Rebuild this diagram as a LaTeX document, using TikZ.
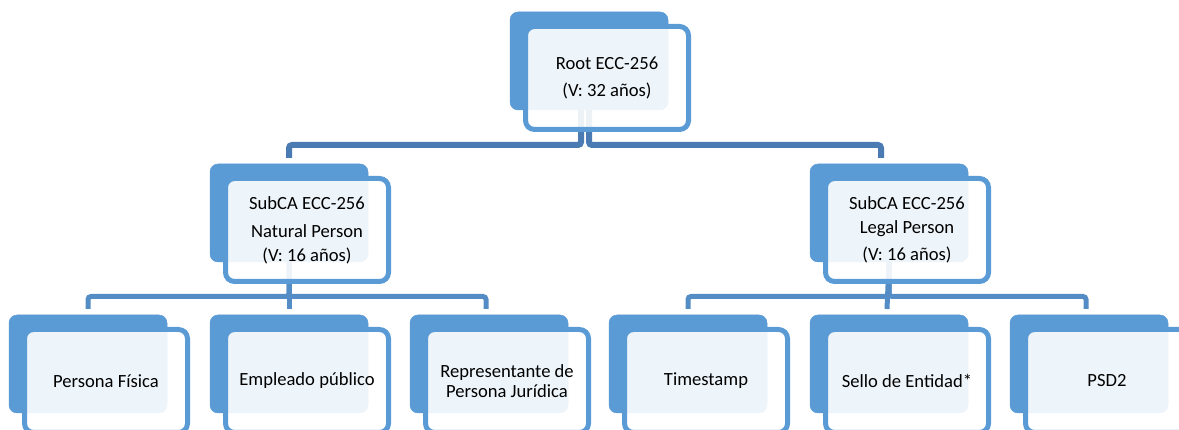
\documentclass[tikz,border=0pt]{standalone}
\usepackage{fontspec}
\setmainfont{Carlito}
\definecolor{boxblue}{RGB}{91,155,213}
\definecolor{topline}{RGB}{74,123,178}
\definecolor{lowline}{RGB}{84,140,198}
\begin{document}
\begin{tikzpicture}[x=1pt,y=-1pt,
  backbox/.style={fill=boxblue, draw=boxblue, line width=0.5pt, rounded corners=8pt,
    minimum width=158pt, minimum height=98pt, anchor=north west, outer sep=0pt, inner sep=0pt},
  frontbox/.style={fill=white, fill opacity=0.9, draw opacity=1, text opacity=1, draw=boxblue,
    line width=5pt, rounded corners=9pt, minimum width=163pt, minimum height=103pt,
    anchor=north west, outer sep=0pt, inner sep=0pt, align=center,
    font=\fontsize{18.6}{22}\selectfont, text=black},
  conntop/.style={draw=topline, line width=6pt, rounded corners=3pt},
  connlow/.style={draw=lowline, line width=5pt, rounded corners=3pt}]
\useasboundingbox (0,0) rectangle (1179,430);
\clip (0,0) rectangle (1179,430);
% back boxes
\node[backbox] (rootb) at (510,12) {};
\node[backbox] (natb) at (210,164) {};
\node[backbox] (legb) at (810,164) {};
\node[backbox] (l1b) at (9,315) {};
\node[backbox] (l2b) at (210,315) {};
\node[backbox] (l3b) at (410,315) {};
\node[backbox] (l4b) at (609,315) {};
\node[backbox] (l5b) at (810,315) {};
\node[backbox] (l6b) at (1010,315) {};
% connectors
\draw[conntop] ([xshift=-8pt]rootb.south) -- ++(0,35) -| ([yshift=6pt]natb.north);
\draw[conntop] (rootb.south) -- ++(0,35) -| ([xshift=-8pt,yshift=6pt]legb.north);
\draw[connlow] (natb.south) -- ++(0,34.5) -| ([yshift=6pt]l1b.north);
\draw[connlow] (natb.south) -- ([yshift=6pt]l2b.north);
\draw[connlow] (natb.south) -- ++(0,34.5) -| ([xshift=-3pt,yshift=6pt]l3b.north);
\draw[connlow] (legb.south) -- ++(0,34.5) -| ([yshift=6pt]l4b.north);
\draw[connlow] (legb.south) -- ([xshift=-2pt,yshift=6pt]l5b.north);
\draw[connlow] (legb.south) -- ++(0,34.5) -| ([xshift=-3pt,yshift=6pt]l6b.north);
% front boxes
\node[frontbox] (root) at (525.5,26.5) {Root ECC-256\\[5.5pt](V: 32 años)};
\node[frontbox] (nat) at (225.5,178.5) {SubCA ECC-256\\[6pt]Natural Person\\[2pt](V: 16 años)};
\node[frontbox] (leg) at (825.5,178.5) {SubCA ECC-256\\[2pt]Legal Person\\[5pt](V: 16 años)};
\node[frontbox] (l1) at (24.5,329.5) {Persona Física};
\node[frontbox] (l2) at (225.5,329.5) {Empleado público};
\node[frontbox] (l3) at (425.5,329.5) {Representante de\\[-2pt]Persona Jurídica};
\node[frontbox] (l4) at (624.5,329.5) {Timestamp};
\node[frontbox] (l5) at (825.5,329.5) {Sello de Entidad*};
\node[frontbox] (l6) at (1025.5,329.5) {PSD2};
\end{tikzpicture}
\end{document}
